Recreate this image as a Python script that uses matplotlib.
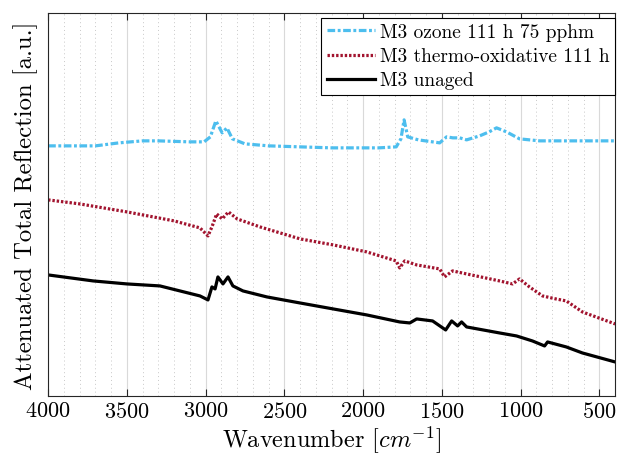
import matplotlib
matplotlib.use("Agg")
import matplotlib.pyplot as plt
from matplotlib.ticker import MultipleLocator

plt.rcParams['font.family'] = 'serif'
plt.rcParams['font.serif'] = ['cmr10', 'DejaVu Serif']
plt.rcParams['mathtext.fontset'] = 'cm'
plt.rcParams['axes.formatter.use_mathtext'] = True

ozone_w = [4000, 3800, 3700, 3550, 3400, 3300, 3100, 3010, 2970, 2935, 2895, 2865, 2830, 2750,
           2600, 2400, 2200, 1900, 1790, 1760, 1740, 1717, 1650, 1514, 1470, 1430, 1387, 1343,
           1260, 1200, 1153, 1090, 1007, 880, 710, 400]
ozone_y = [2.53, 2.53, 2.53, 2.56, 2.58, 2.58, 2.57, 2.57, 2.62, 2.78, 2.66, 2.71, 2.60, 2.55,
           2.53, 2.52, 2.51, 2.51, 2.52, 2.60, 2.79, 2.62, 2.59, 2.56, 2.62, 2.61, 2.61, 2.59,
           2.63, 2.67, 2.71, 2.67, 2.60, 2.58, 2.58, 2.58]

thermo_w = [4000, 3800, 3500, 3200, 3036, 2985, 2960, 2930, 2895, 2855, 2800, 2655, 2400, 2190,
            1977, 1790, 1768, 1736, 1660, 1514, 1483, 1432, 1343, 1134, 1051, 1007, 944, 861,
            776, 710, 608, 400]
thermo_y = [1.99, 1.95, 1.87, 1.78, 1.71, 1.63, 1.72, 1.85, 1.80, 1.87, 1.80, 1.72, 1.60, 1.54,
            1.47, 1.38, 1.31, 1.38, 1.34, 1.30, 1.22, 1.28, 1.25, 1.18, 1.15, 1.20, 1.12, 1.03,
            1.00, 0.98, 0.87, 0.75]

unaged_w = [4000, 3714, 3500, 3290, 3036, 2985, 2960, 2940, 2922, 2890, 2858, 2827, 2763, 2611,
            2402, 2190, 1977, 1768, 1704, 1660, 1559, 1476, 1438, 1400, 1375, 1343, 1134, 1026,
            925, 848, 829, 710, 608, 400]
unaged_y = [1.24, 1.18, 1.15, 1.13, 1.03, 0.99, 1.12, 1.10, 1.22, 1.15, 1.22, 1.13, 1.08, 1.02,
            0.96, 0.90, 0.84, 0.77, 0.76, 0.80, 0.78, 0.69, 0.78, 0.73, 0.77, 0.72, 0.66, 0.63,
            0.58, 0.53, 0.57, 0.52, 0.46, 0.37]

labels = ["M3 ozone 111 h 75 pphm", "M3 thermo-oxidative 111 h", "M3 unaged"]
xticks = [4000, 3500, 3000, 2500, 2000, 1500, 1000, 500]

fig = plt.figure(figsize=(6.17, 4.60), dpi=100)
ax = fig.add_axes([0.078, 0.137, 0.919, 0.833])

ax.plot(ozone_w, ozone_y, color='#4DBEEE', lw=2.3, linestyle=(0, (2.4, 0.8, 0.9, 0.8)), label=labels[0])
ax.plot(thermo_w, thermo_y, color='#A2142F', lw=2.3, linestyle=(0, (0.75, 0.6)), label=labels[1])
ax.plot(unaged_w, unaged_y, color='black', lw=2.3, linestyle='-', label=labels[2])

ax.set_xlim(4000, 400)
ax.set_ylim(0.03, 3.86)
ax.set_xticks(xticks)
ax.xaxis.set_minor_locator(MultipleLocator(100))
ax.set_yticks([])
ax.grid(True, which='major', axis='x', color='#d9d9d9', lw=0.8, linestyle='-')
ax.grid(True, which='minor', axis='x', color='#c8c8c8', lw=0.7, linestyle=(0, (1, 3)))
ax.set_axisbelow(True)
ax.tick_params(axis='x', which='major', direction='in', top=True, bottom=True, length=5,
               width=0.8, labelsize=16, color='#262626')
ax.tick_params(axis='x', which='minor', length=0)
for s in ax.spines.values():
    s.set_color('#262626')
    s.set_linewidth(0.8)

ax.set_xlabel(r"Wavenumber $[cm^{-1}]$", fontsize=17.5, labelpad=2)
ax.set_ylabel("Attenuated Total Reflection [a.u.]", fontsize=17.8, labelpad=7)

leg = ax.legend(loc='upper left', bbox_to_anchor=(0.4815, 0.789, 0.5185, 0.198), mode='expand',
                fontsize=13.9, frameon=True, fancybox=False,
                edgecolor='black', framealpha=1, borderpad=0.28, labelspacing=0.32,
                handlelength=2.5, handletextpad=0.25, borderaxespad=0.0)
leg.get_frame().set_linewidth(0.8)

fig.savefig("out.png", dpi=100)
